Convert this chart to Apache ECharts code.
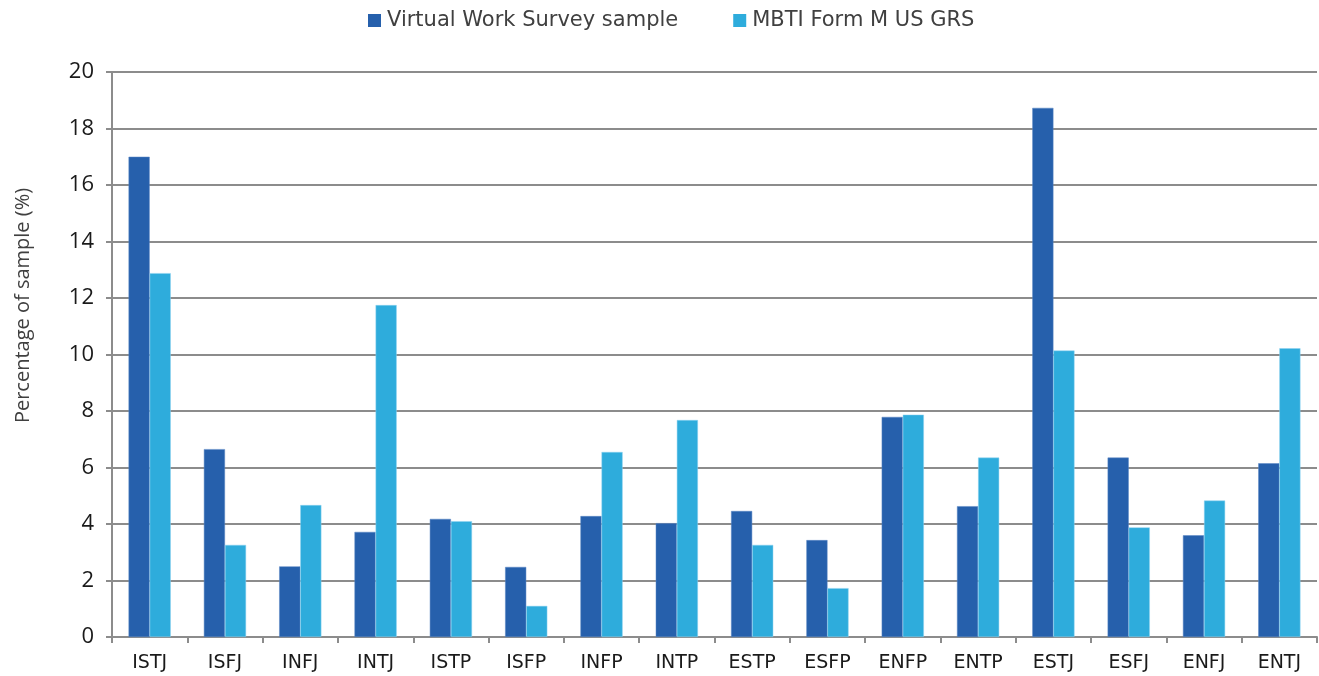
<!DOCTYPE html>
<html>
<head>
<meta charset="utf-8">
<script src="https://cdn.jsdelivr.net/npm/echarts@6/dist/echarts.min.js"></script>
<style>html,body{margin:0;padding:0;background:#fff;}#c{width:1319px;height:676px;}</style>
</head>
<body>
<div id="c"></div>
<script>
const categories = ['ISTJ','ISFJ','INFJ','INTJ','ISTP','ISFP','INFP','INTP','ESTP','ESFP','ENFP','ENTP','ESTJ','ESFJ','ENFJ','ENTJ'];
const seriesNames = ['Virtual Work Survey sample', 'MBTI Form M US GRS'];
const virtualWork = [17.0, 6.65, 2.5, 3.72, 4.18, 2.48, 4.28, 4.03, 4.46, 3.43, 7.79, 4.63, 18.73, 6.35, 3.6, 6.15];
const mbtiGRS = [12.88, 3.26, 4.67, 11.75, 4.1, 1.1, 6.55, 7.68, 3.26, 1.73, 7.87, 6.35, 10.14, 3.88, 4.83, 10.22];
const yTicks = [0, 2, 4, 6, 8, 10, 12, 14, 16, 18, 20];

const chart = echarts.init(document.getElementById('c'), null, {renderer: 'canvas'});
const fontA = 'Open Sans, sans-serif';
const fontB = 'DejaVu Sans, sans-serif';
chart.setOption({
  animation: false,
  backgroundColor: '#ffffff',
  legend: {
    top: 5,
    left: 363,
    itemWidth: 13,
    itemHeight: 13,
    itemGap: 55,
    icon: 'rect',
    itemStyle: {borderWidth: 0},
    textStyle: {fontFamily: fontB, fontSize: 21, color: '#404040', padding: [0,0,0,1]},
    data: seriesNames
  },
  grid: {left: 112, right: 2, top: 72, bottom: 39, containLabel: false},
  xAxis: {
    type: 'category',
    data: categories,
    axisLine: {lineStyle: {color: '#8c8c8c', width: 2}},
    axisTick: {show: true, alignWithLabel: false, length: 6, lineStyle: {color: '#8c8c8c', width: 2}},
    axisLabel: {fontFamily: fontB, fontSize: 19, color: '#1a1a1a', margin: 17}
  },
  yAxis: {
    type: 'value',
    min: yTicks[0],
    max: yTicks[yTicks.length - 1],
    interval: 2,
    name: 'Percentage of sample (%)',
    nameLocation: 'middle',
    nameGap: 79,
    nameTextStyle: {fontFamily: fontA, fontSize: 20, color: '#404040', padding: [0,0,0,98]},
    axisLine: {show: true, lineStyle: {color: '#8c8c8c', width: 2}},
    axisTick: {show: true, inside: false, length: 6, lineStyle: {color: '#8c8c8c', width: 2}},
    axisLabel: {fontFamily: fontA, fontSize: 22, color: '#1a1a1a', margin: 18},
    splitLine: {show: true, lineStyle: {color: '#8c8c8c', width: 2}}
  },
  series: [
    {name: seriesNames[0], type: 'bar', data: virtualWork, barGap: '0%', barCategoryGap: '44%',
     itemStyle: {color: '#2660ac', borderColor: '#5b86c4', borderWidth: 0.5}},
    {name: seriesNames[1], type: 'bar', data: mbtiGRS, barGap: '0%', barCategoryGap: '44%',
     itemStyle: {color: '#2eacdc', borderColor: '#8fd3f0', borderWidth: 0.5}}
  ]
});
</script>
</body>
</html>
